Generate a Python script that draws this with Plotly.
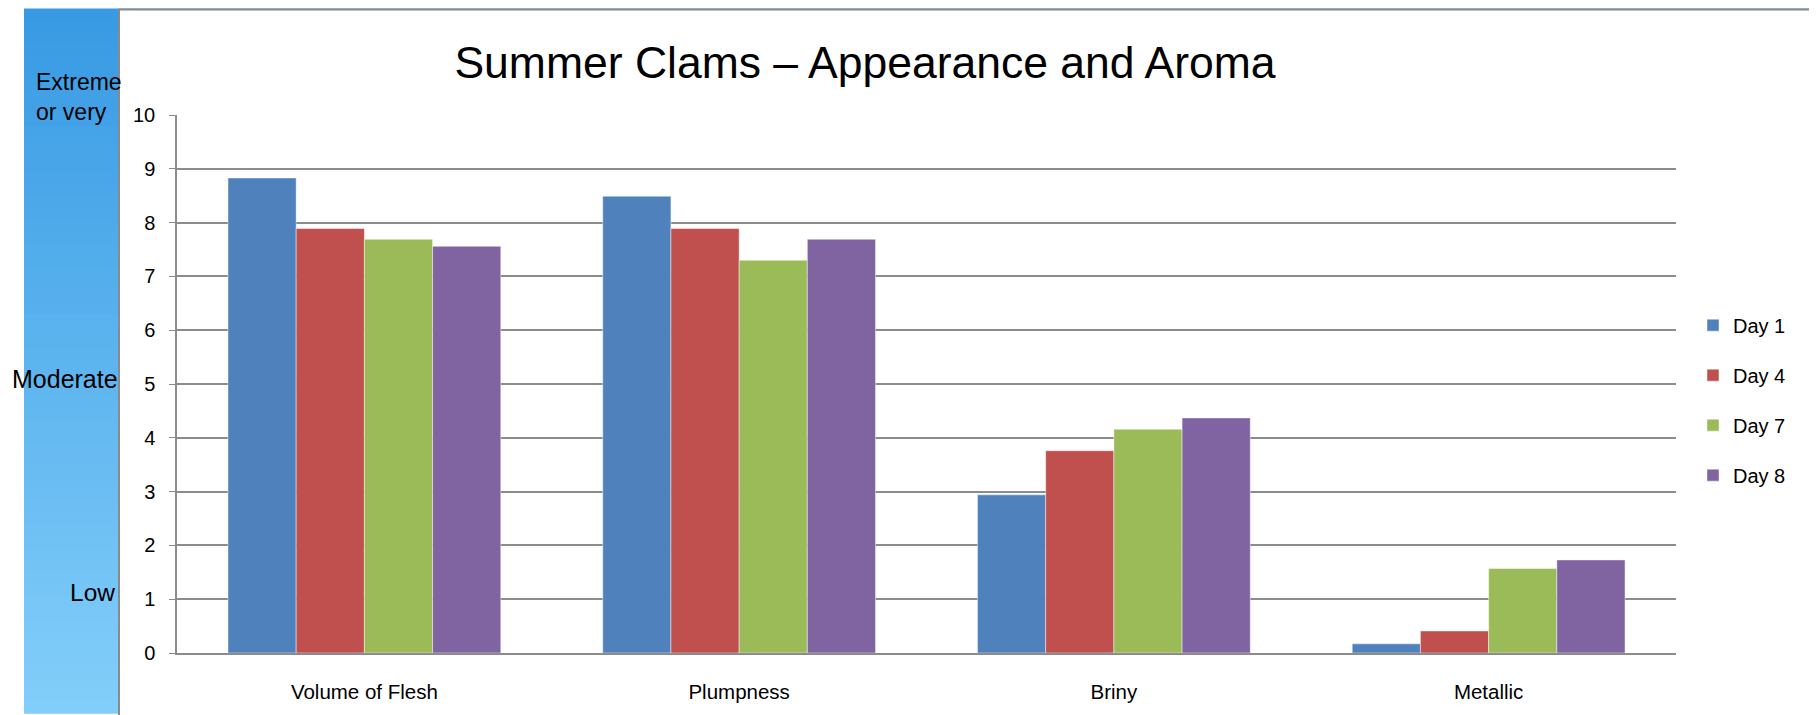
import plotly.graph_objects as go

# données
categories = ["Volume of Flesh", "Plumpness", "Briny", "Metallic"]
day1 = [8.83, 8.49, 2.94, 0.17]
day4 = [7.89, 7.89, 3.76, 0.41]
day7 = [7.69, 7.30, 4.16, 1.57]
day8 = [7.56, 7.69, 4.37, 1.73]
series_names = ["Day 1", "Day 4", "Day 7", "Day 8"]
y_ticks = [0, 1, 2, 3, 4, 5, 6, 7, 8, 9, 10]

colors = ["#4F81BD", "#C0504D", "#9BBB59", "#8064A2"]

# la page ajoute une marge de 8 px autour de la figure
OFF = 8
W, H = 1817 - OFF, 715 - OFF
L, T = 177 - OFF, 115 - OFF
R, B = 141, 60
PW, PH = W - L - R, H - T - B


def px_x(px):
    # px = position dans la capture de référence
    return (px - OFF - L) / PW


def px_y(py):
    return (H - B - (py - OFF)) / PH


fig = go.Figure()
for name, vals, col in zip(series_names, [day1, day4, day7, day8], colors):
    fig.add_trace(go.Bar(
        x=categories, y=vals, name=name, legendgroup=name,
        marker=dict(color=col, line=dict(color="rgba(255,255,255,0.45)", width=1)),
    ))

# fond : dégradé bleu vertical + panneau blanc
shapes = []
top_c = (0x38, 0x9A, 0xE3)
bot_c = (0x82, 0xCE, 0xFA)
n = 60
for i in range(n):
    t = i / (n - 1)
    c = tuple(round(a + (b - a) * t) for a, b in zip(top_c, bot_c))
    y0 = OFF + i * H / n
    y1 = OFF + (i + 1) * H / n + 1
    shapes.append(dict(type="rect", xref="paper", yref="paper", layer="below",
                       x0=px_x(24), x1=px_x(1817 + 2), y0=px_y(y1), y1=px_y(y0),
                       fillcolor="rgb(%d,%d,%d)" % c, line=dict(width=0)))
shapes.append(dict(type="rect", xref="paper", yref="paper", layer="below",
                   x0=px_x(119), x1=px_x(1811), y0=px_y(720), y1=px_y(9),
                   fillcolor="white", line=dict(color="#8A8A8A", width=2)))

annotations = [
    dict(text="Extreme<br>or very", xref="paper", yref="paper", x=px_x(34), y=px_y(97),
         xanchor="left", yanchor="middle", align="left", showarrow=False,
         font=dict(size=23, color="black")),
    dict(text="Moderate", xref="paper", yref="paper", x=px_x(120), y=px_y(380),
         xanchor="right", yanchor="middle", showarrow=False, font=dict(size=25, color="black")),
    dict(text="Low", xref="paper", yref="paper", x=px_x(117), y=px_y(594),
         xanchor="right", yanchor="middle", showarrow=False, font=dict(size=24.5, color="black")),
]

fig.update_layout(
    width=W, height=H,
    margin=dict(l=L, r=R, t=T, b=B),
    paper_bgcolor="white",
    plot_bgcolor="rgba(0,0,0,0)",
    font=dict(family="Liberation Sans", size=20, color="black"),
    title=dict(text="Summer Clams \u2013 Appearance and Aroma", xref="paper", x=px_x(865),
               xanchor="center", yref="container", y=1 - (62 - OFF) / H, yanchor="middle",
               font=dict(size=44.5, color="black")),
    barmode="group", bargap=0.272, bargroupgap=0,
    shapes=shapes,
    annotations=annotations,
    legend=dict(x=px_x(1693), xanchor="left", y=0.47, yanchor="middle",
                font=dict(size=20), tracegroupgap=21, bgcolor="rgba(0,0,0,0)"),
    xaxis=dict(showgrid=False, showline=True, linecolor="#8C8C8C", linewidth=1.5,
               ticks="", ticklabelstandoff=20, tickfont=dict(size=20.5)),
    yaxis=dict(range=[0, 10], tickvals=y_ticks, showgrid=True, gridcolor="#8C8C8C",
               gridwidth=1.5, showline=True, linecolor="#8C8C8C", linewidth=1.5,
               ticks="outside", ticklen=6, tickcolor="#8C8C8C", ticklabelstandoff=10,
               zeroline=False, tickfont=dict(size=20)),
)

fig.write_html("out.html")
